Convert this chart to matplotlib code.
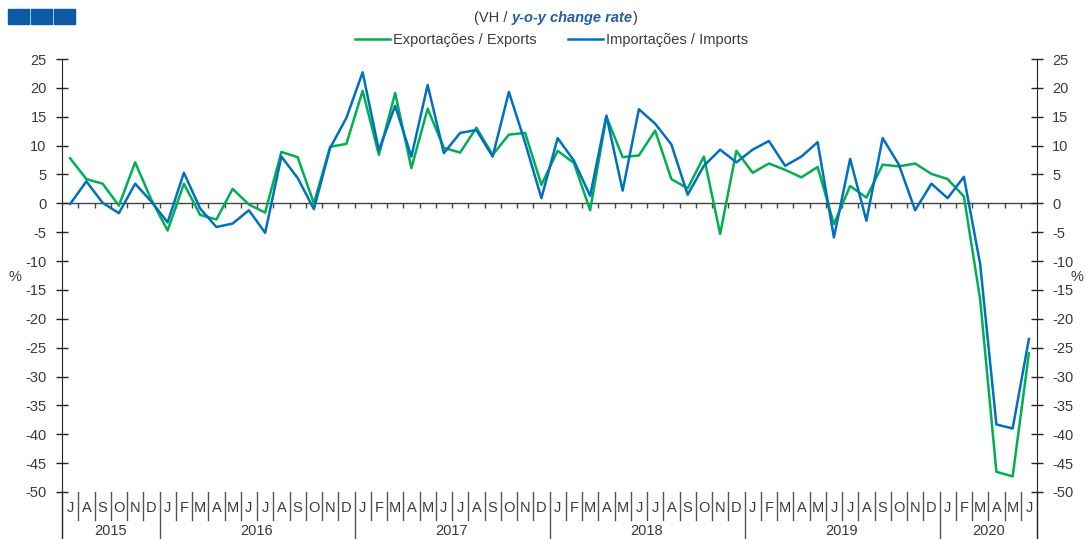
import matplotlib
matplotlib.use("Agg")
import matplotlib.pyplot as plt
from matplotlib.patches import Rectangle

plt.rcParams['font.family'] = ['Liberation Sans', 'DejaVu Sans']
plt.rcParams['axes.unicode_minus'] = False

# Jul 2015 .. Jun 2020, y-o-y change rate (%)
exports = [7.8, 4.2, 3.4, -0.4, 7.1, 0.6,
           -4.7, 3.4, -2.0, -2.8, 2.5, -0.2, -1.6, 8.9, 8.0, 0.0, 9.8, 10.3,
           19.5, 8.4, 19.1, 6.1, 16.4, 9.6, 8.8, 13.1, 8.4, 11.9, 12.2, 3.2,
           9.1, 7.0, -1.2, 15.0, 8.0, 8.3, 12.6, 4.2, 2.6, 8.1, -5.3, 9.1,
           5.3, 6.9, 5.8, 4.5, 6.3, -3.6, 3.0, 1.0, 6.7, 6.4, 6.9, 5.1,
           4.2, 1.2, -16.6, -46.5, -47.3, -26.0]
imports = [-0.1, 3.8, 0.1, -1.7, 3.4, 0.3,
           -3.3, 5.3, -0.9, -4.1, -3.5, -1.2, -5.1, 8.1, 4.4, -1.0, 9.6, 14.8,
           22.7, 9.2, 16.9, 8.1, 20.5, 8.7, 12.2, 12.7, 8.1, 19.3, 10.5, 0.9,
           11.3, 7.4, 1.3, 15.2, 2.2, 16.3, 13.8, 10.2, 1.5, 6.5, 9.3, 7.1,
           9.3, 10.8, 6.5, 8.1, 10.6, -5.9, 7.7, -3.0, 11.3, 6.7, -1.2, 3.4,
           0.9, 4.6, -10.5, -38.3, -39.0, -23.5]
month_letters = list("JASOND") + list("JFMAMJJASOND") * 4 + list("JFMAMJ")
years = ['2015', '2016', '2017', '2018', '2019', '2020']
months_per_year = [6, 12, 12, 12, 12, 6]

GREEN = '#00b050'
BLUE = '#0070c0'
TXT = '#3a3a3a'
FS = 10.5

fig = plt.figure(figsize=(10.86, 5.39), dpi=100)
ax = fig.add_axes([0.0571, 0.0872, 0.8978, 0.8033])

x = list(range(len(exports)))
l1, = ax.plot(x, exports, color=GREEN, lw=1.8, label='Exportações / Exports')
l2, = ax.plot(x, imports, color=BLUE, lw=1.8, label='Importações / Imports')

ax.set_xlim(-0.5, len(x) - 0.5)
ax.set_ylim(-50, 25)
ax.set_yticks(range(-50, 30, 5))
ax.set_xticks([])
for s in ['top', 'bottom']:
    ax.spines[s].set_visible(False)
ax.spines['left'].set_color('#222')
ax.spines['right'].set_color('#222')
ax.tick_params(axis='y', direction='inout', length=8, width=1, colors='#222',
               labelcolor=TXT, labelsize=FS, pad=7)

ax2 = ax.twinx()
ax2.set_ylim(-50, 25)
ax2.set_yticks(range(-50, 30, 5))
for s in ['top', 'bottom', 'left', 'right']:
    ax2.spines[s].set_visible(False)
ax2.tick_params(axis='y', direction='inout', length=8, width=1, colors='#222',
                labelcolor=TXT, labelsize=FS, pad=7)

# zero line with small month ticks
ax.axhline(0, color='#444', lw=1, zorder=1)
bounds = [i + 0.5 for i in range(len(x) - 1)]
ax.vlines(bounds, -0.8, 0, color='#444', lw=1, zorder=1)

# month / year category axis below the plot
tr = ax.get_xaxis_transform()
year_bounds = [-0.5]
for n in months_per_year:
    year_bounds.append(year_bounds[-1] + n)
for b in bounds:
    low = -0.109 if b in year_bounds else -0.065
    ax.plot([b, b], [0, low], transform=tr, color='#555', lw=1, clip_on=False)
for b in (year_bounds[0], year_bounds[-1]):
    ax.plot([b, b], [0, -0.109], transform=tr, color='#222', lw=1, clip_on=False)
for i, m in enumerate(month_letters):
    ax.text(i, -0.037, m, transform=tr, ha='center', va='center', fontsize=FS, color=TXT)
for k, y in enumerate(years):
    c = (year_bounds[k] + year_bounds[k + 1]) / 2
    ax.text(c, -0.091, y, transform=tr, ha='center', va='center', fontsize=FS, color=TXT)

fig.text(15 / 1086, 1 - 277 / 539, '%', ha='center', va='center', fontsize=FS, color=TXT)
fig.text(1077 / 1086, 1 - 277 / 539, '%', ha='center', va='center', fontsize=FS, color=TXT)

# subtitle
t = fig.text(572 / 1086, 1 - 18 / 539, 'y-o-y change rate', ha='center', va='center',
             fontsize=FS, color='#1f5fa8', fontweight='bold', fontstyle='italic')
ax.annotate('(VH / ', xy=(0, 0), xycoords=t, ha='right', va='bottom', fontsize=FS, color=TXT)
ax.annotate(')', xy=(1, 0), xycoords=t, ha='left', va='bottom', fontsize=FS, color=TXT)

fig.legend(handles=[l1, l2], loc='center', bbox_to_anchor=(0.508, 1 - 40 / 539), ncol=2,
           frameon=False, fontsize=FS, handlelength=2.4, handletextpad=0.2,
           columnspacing=2.2, labelcolor=TXT)

# logo squares
for k in range(3):
    fig.patches.append(Rectangle(((8 + k * 23) / 1086, 1 - 24 / 539), 21 / 1086, 15 / 539,
                                 transform=fig.transFigure, color='#0b5aa5'))

fig.savefig('out.png', dpi=100)
